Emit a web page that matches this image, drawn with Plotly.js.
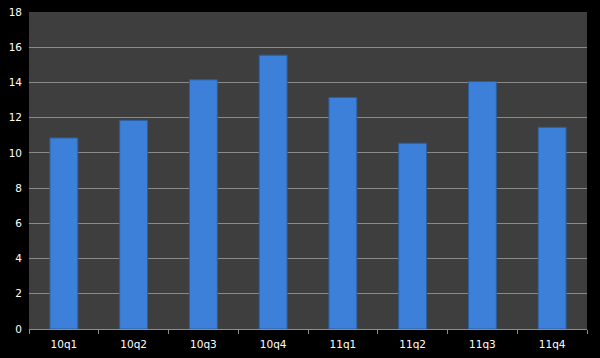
<!DOCTYPE html>
<html><head><meta charset="utf-8">
<script src="https://cdn.plot.ly/plotly-3.0.1.min.js"></script>
<style>html,body{margin:0;padding:0;background:#000;}#chart{width:600px;height:358px;}</style>
</head><body><div id="chart"></div>
<script>
var categories = ["10q1","10q2","10q3","10q4","11q1","11q2","11q3","11q4"];
var values = [10.85, 11.85, 14.15, 15.55, 13.15, 10.55, 14.05, 11.45];
var yTicks = [0,2,4,6,8,10,12,14,16,18];

var trace = {
  type: "bar",
  x: categories,
  y: values,
  marker: {color: "#3c80d9", line: {color: "#2b5e9e", width: 1}},
  hoverinfo: "x+y"
};
var layout = {
  width: 600, height: 358,
  margin: {l: 29, r: 13, t: 12, b: 29},
  paper_bgcolor: "#000000",
  plot_bgcolor: "#3e3e3e",
  bargap: 0.6,
  showlegend: false,
  font: {family: "DejaVu Sans, sans-serif", size: 10, color: "#ffffff"},
  xaxis: {
    type: "category",
    showgrid: false,
    showline: true, linecolor: "#8c8c8c", linewidth: 1,
    ticks: "outside", tickson: "boundaries", ticklen: 4, tickcolor: "#8c8c8c",
    ticklabelstandoff: 5,
    tickfont: {color: "#ffffff", size: 10.5},
    zeroline: false
  },
  yaxis: {
    range: [0, 18],
    tickvals: yTicks,
    showgrid: true, gridcolor: "#8a8a8a", gridwidth: 1,
    showline: false,
    ticks: "", ticklen: 0,
    ticklabelstandoff: 6,
    tickfont: {color: "#ffffff", size: 10.5},
    zeroline: false
  }
};
Plotly.newPlot("chart", [trace], layout, {displayModeBar: false, staticPlot: true});
</script></body></html>
